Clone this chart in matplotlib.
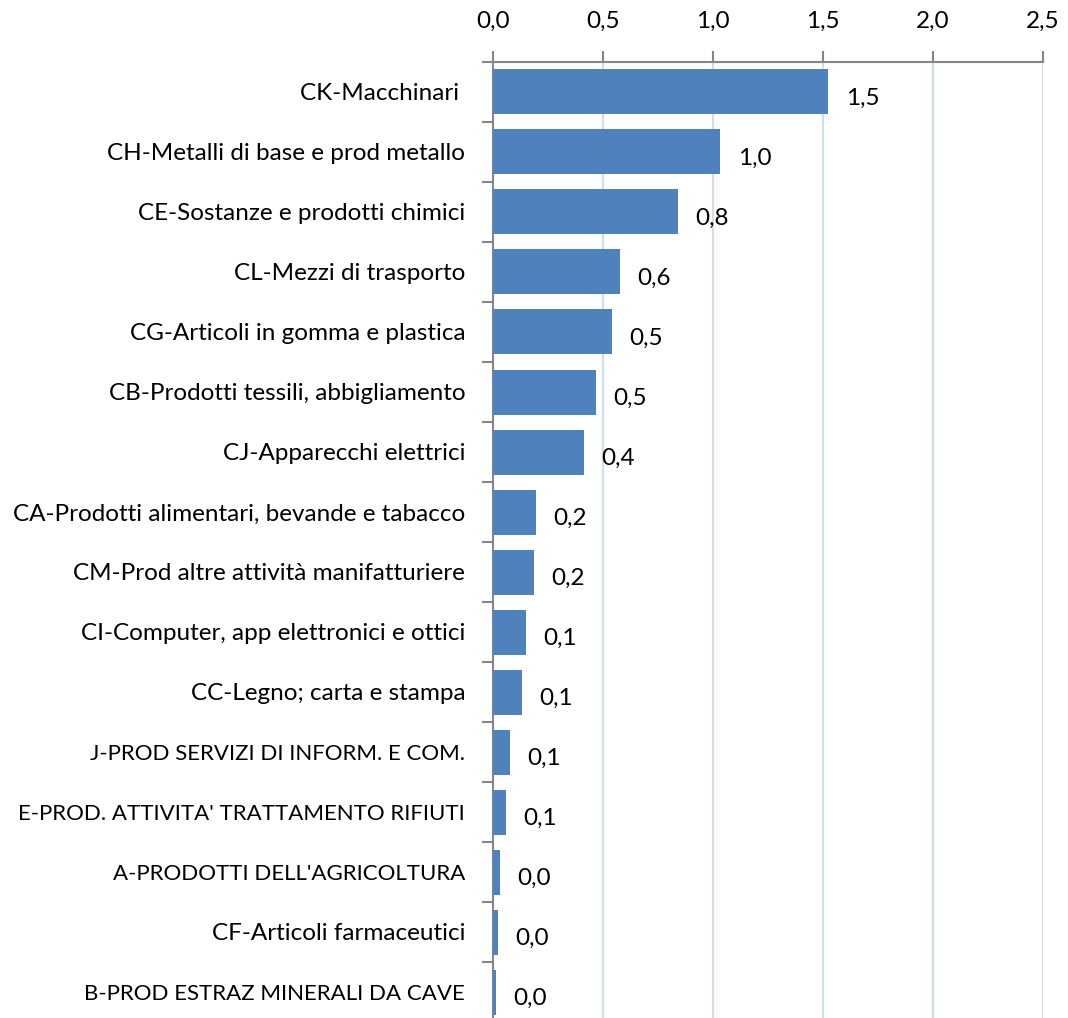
import numpy as np
import matplotlib.pyplot as plt

categories = [
    "CK-Macchinari ",
    "CH-Metalli di base e prod metallo",
    "CE-Sostanze e prodotti chimici",
    "CL-Mezzi di trasporto",
    "CG-Articoli in gomma e plastica",
    "CB-Prodotti tessili, abbigliamento",
    "CJ-Apparecchi elettrici",
    "CA-Prodotti alimentari, bevande e tabacco",
    "CM-Prod altre attività manifatturiere",
    "CI-Computer, app elettronici e ottici",
    "CC-Legno; carta e stampa",
    "J-PROD SERVIZI DI INFORM. E COM.",
    "E-PROD. ATTIVITA' TRATTAMENTO RIFIUTI",
    "A-PRODOTTI DELL'AGRICOLTURA",
    "CF-Articoli farmaceutici",
    "B-PROD ESTRAZ MINERALI DA CAVE",
]
values = [1.523, 1.032, 0.841, 0.577, 0.541, 0.468, 0.414, 0.196, 0.186,
          0.150, 0.132, 0.077, 0.059, 0.032, 0.023, 0.014]
xticks = [0.0, 0.5, 1.0, 1.5, 2.0, 2.5]

plt.rcParams['font.family'] = ['Lato', 'DejaVu Sans']
FS = 17.5

fig = plt.figure(figsize=(10.68, 10.18), dpi=100)
ax = fig.add_axes([493 / 1068, 1 - 1022 / 1018, 550 / 1068, 960 / 1018])

y = np.arange(len(categories))
ax.barh(y, values, height=0.75, color='#4f81bd', zorder=3)

for yi, v in zip(y, values):
    ax.text(v + 0.08, yi + 0.1, f"{v:.1f}".replace('.', ','), va='center', ha='left',
            fontsize=FS)

ax.set_ylim(len(categories) - 0.5, -0.5)
ax.set_xlim(0, 2.5)
ax.xaxis.tick_top()
ax.set_xticks(xticks)
ax.set_xticklabels([f"{t:.1f}".replace('.', ',') for t in xticks], fontsize=FS)
ax.tick_params(axis='x', direction='out', length=8, width=1.5, color='#868686', pad=14)
ax.grid(axis='x', color='#d0dcef', linewidth=1.5, zorder=0)

ax.set_yticks(y)
ax.set_yticklabels(categories, fontsize=FS)
# capital-letter labels are wider in Lato than in the original font
for lab in ax.get_yticklabels():
    txt = lab.get_text()
    if sum(c.isupper() for c in txt) > 0.6 * sum(c.isalpha() for c in txt):
        lab.set_fontsize(16)
ax.tick_params(axis='y', length=0, pad=20)
ax.set_yticks(np.arange(-0.5, len(categories), 1), minor=True)
ax.tick_params(axis='y', which='minor', length=8, width=1.5, color='#868686')

for side in ['right', 'bottom']:
    ax.spines[side].set_visible(False)
for side in ['top', 'left']:
    ax.spines[side].set_color('#868686')
    ax.spines[side].set_linewidth(1.5)

fig.savefig('out.png', dpi=100)
